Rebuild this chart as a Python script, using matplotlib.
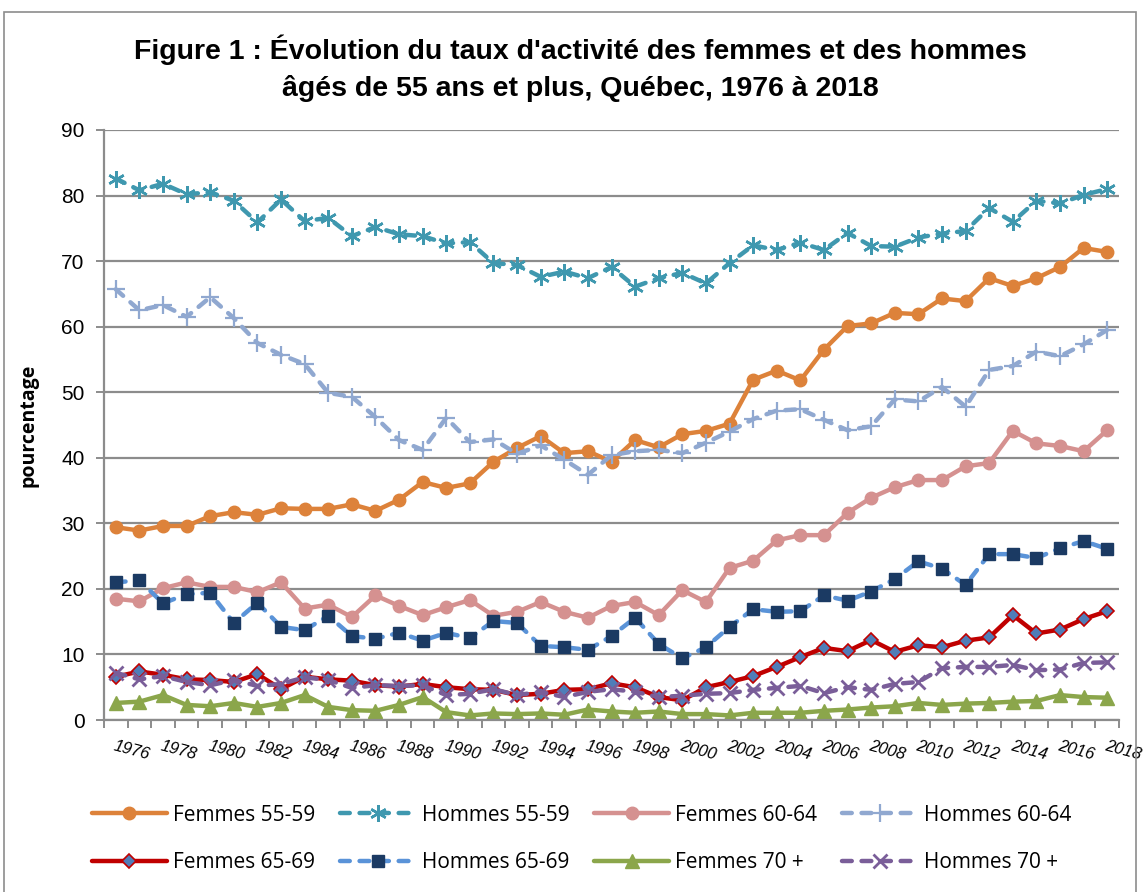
import matplotlib
matplotlib.use("Agg")
import matplotlib.pyplot as plt
import matplotlib.patches as patches
import numpy as np

annees = list(range(1976, 2019))

femmes_55_59 = [29.4, 28.9, 29.6, 29.6, 31.1, 31.7, 31.3, 32.3, 32.2, 32.2,
                32.9, 31.9, 33.6, 36.3, 35.4, 36.1, 39.4, 41.5, 43.3, 40.7,
                41.0, 39.4, 42.7, 41.6, 43.6, 44.1, 45.2, 51.9, 53.3, 51.8,
                56.5, 60.1, 60.5, 62.1, 61.9, 64.3, 63.9, 67.4, 66.2, 67.4,
                69.1, 72.0, 71.4]
hommes_55_59 = [82.6, 80.8, 81.8, 80.2, 80.5, 79.2, 75.9, 79.4, 76.1, 76.6,
                73.8, 75.2, 74.1, 73.8, 72.7, 72.9, 69.7, 69.4, 67.6, 68.4,
                67.4, 69.1, 66.1, 67.4, 68.2, 66.6, 69.7, 72.4, 71.7, 72.8,
                71.7, 74.3, 72.3, 72.2, 73.6, 74.2, 74.6, 78.1, 76.0, 79.2,
                78.8, 80.1, 81.0]
femmes_60_64 = [18.5, 18.1, 20.1, 21.0, 20.3, 20.3, 19.5, 21.0, 17.0, 17.6,
                15.7, 19.0, 17.4, 16.0, 17.2, 18.3, 15.9, 16.5, 18.0, 16.5,
                15.6, 17.4, 18.0, 16.0, 19.8, 18.0, 23.2, 24.3, 27.4, 28.2,
                28.2, 31.6, 33.9, 35.5, 36.6, 36.6, 38.7, 39.2, 44.1, 42.2,
                41.8, 41.0, 44.2]
hommes_60_64 = [65.7, 62.5, 63.3, 61.5, 64.5, 61.3, 57.5, 55.7, 54.3, 49.9,
                49.3, 46.2, 42.7, 41.2, 46.1, 42.4, 42.8, 40.6, 41.9, 39.7,
                37.4, 40.4, 41.0, 41.2, 40.7, 42.3, 44.0, 45.9, 47.2, 47.4,
                45.8, 44.2, 44.8, 48.9, 48.6, 50.8, 47.8, 53.4, 54.0, 56.2,
                55.5, 57.3, 59.5]
femmes_65_69 = [6.6, 7.4, 6.9, 6.2, 6.1, 5.8, 7.0, 4.7, 6.6, 6.2,
                6.0, 5.3, 5.1, 5.5, 5.0, 4.7, 4.6, 3.8, 4.0, 4.6,
                4.7, 5.6, 5.0, 3.5, 3.0, 5.0, 5.8, 6.7, 8.1, 9.6,
                11.0, 10.5, 12.2, 10.4, 11.4, 11.1, 12.1, 12.6, 16.0, 13.2,
                13.8, 15.4, 16.6]
hommes_65_69 = [21.0, 21.3, 17.8, 19.2, 19.4, 14.8, 17.9, 14.2, 13.7, 15.9,
                12.8, 12.4, 13.3, 12.1, 13.3, 12.5, 15.1, 14.8, 11.3, 11.1,
                10.7, 12.8, 15.6, 11.6, 9.4, 11.1, 14.2, 16.9, 16.5, 16.6,
                19.0, 18.2, 19.6, 21.5, 24.2, 23.1, 20.6, 25.3, 25.3, 24.7,
                26.2, 27.3, 26.1]
femmes_70_plus = [2.6, 2.8, 3.8, 2.3, 2.1, 2.6, 2.0, 2.6, 3.8, 2.0,
                  1.5, 1.4, 2.3, 3.5, 1.2, 0.7, 1.0, 0.9, 1.0, 0.8,
                  1.6, 1.3, 1.1, 1.3, 0.9, 0.9, 0.7, 1.1, 1.1, 1.1,
                  1.4, 1.6, 1.9, 2.1, 2.6, 2.3, 2.5, 2.6, 2.8, 2.9,
                  3.8, 3.5, 3.4]
hommes_70_plus = [7.2, 6.2, 6.7, 5.8, 5.3, 6.1, 5.2, 5.5, 6.5, 6.1,
                  4.9, 5.3, 5.2, 5.3, 3.8, 4.0, 4.7, 3.8, 4.3, 3.5,
                  4.3, 4.7, 4.3, 3.5, 3.7, 4.0, 4.1, 4.6, 4.9, 5.2,
                  4.1, 5.0, 4.6, 5.5, 5.8, 7.9, 8.1, 8.1, 8.4, 7.6,
                  7.7, 8.7, 8.8]

etiquettes_x = [str(a) for a in range(1976, 2019, 2)]

fig = plt.figure(figsize=(11.43, 8.92), dpi=100)
ax = fig.add_axes([104 / 1143, 1 - 720 / 892, (1119 - 104) / 1143, (720 - 130) / 892])

# cadre gris autour du graphique
fig.patches.append(patches.Rectangle((4 / 1143, -0.05), 1132 / 1143, 1.05 - 12 / 892,
                                     transform=fig.transFigure, fill=False,
                                     edgecolor='#8c8c8c', linewidth=1.2))

ax.set_xlim(1975.5, 2018.5)
ax.set_ylim(0, 90)
ax.set_yticks(range(0, 91, 10))
ax.yaxis.grid(True, color='#8c8c8c', linewidth=1.6)
ax.set_axisbelow(True)
for cote in ['top', 'right']:
    ax.spines[cote].set_visible(False)
ax.spines['left'].set_color('#8c8c8c')
ax.spines['bottom'].set_color('#8c8c8c')
ax.spines['left'].set_linewidth(1.6)
ax.spines['bottom'].set_linewidth(1.6)

ax.set_xticks(np.arange(1975.5, 2019, 1), minor=True)
ax.set_xticks(range(1976, 2019, 2))
ax.set_xticklabels(etiquettes_x, rotation=-15, ha='left', va='top',
                   rotation_mode='anchor', fontstyle='italic', fontsize=12,
                   family='Liberation Sans')
ax.tick_params(axis='x', which='major', length=0, pad=13)
ax.tick_params(axis='x', which='minor', length=6, width=1.4, color='#8c8c8c')
ax.tick_params(axis='y', length=6, width=1.4, color='#8c8c8c', pad=8)
for lbl in ax.get_yticklabels():
    lbl.set_family('Liberation Sans')
    lbl.set_fontsize(15)

kw_plein = dict(linewidth=3.2, solid_capstyle='round', solid_joinstyle='round')
kw_tiret = dict(linewidth=3.2, linestyle=(0, (2.2, 2.2)), dash_capstyle='round')

h1, = ax.plot(annees, femmes_55_59, color='#DD823A', marker='o', markersize=9, **kw_plein)
h2, = ax.plot(annees, hommes_55_59, color='#3F98AF', marker=(6, 2, 0), markersize=12,
              markeredgewidth=1.8, **kw_tiret)
h3, = ax.plot(annees, femmes_60_64, color='#D59190', marker='o', markersize=9, **kw_plein)
h4, = ax.plot(annees, hommes_60_64, color='#90A8D0', marker='+', markersize=13,
              markeredgewidth=1.6, **kw_tiret)
h5, = ax.plot(annees, femmes_65_69, color='#C00000', marker='D', markersize=7,
              markerfacecolor='#4F7DB8', markeredgecolor='#C00000', markeredgewidth=1.2,
              **kw_plein)
h6, = ax.plot(annees, hommes_65_69, color='#5A93D8', marker='s', markersize=9,
              markerfacecolor='#1B3A63', markeredgecolor='#1B3A63', **kw_tiret)
h7, = ax.plot(annees, femmes_70_plus, color='#8BA64B', marker='^', markersize=10, **kw_plein)
h8, = ax.plot(annees, hommes_70_plus, color='#7A5E99', marker='x', markersize=10,
              markeredgewidth=2, **kw_tiret)

ax.set_ylabel('pourcentage', fontsize=14, fontweight='bold', family='Open Sans', labelpad=16)

police_titre = dict(ha='center', va='center', fontsize=20.5, fontweight='bold',
                    family='Liberation Sans')
fig.text(0.508, 1 - 50 / 892,
         "Figure 1 : Évolution du taux d'activité des femmes et des hommes", **police_titre)
fig.text(0.508, 1 - 89 / 892, "âgés de 55 ans et plus, Québec, 1976 à 2018", **police_titre)

poignees = [h1, h5, h2, h6, h3, h7, h4, h8]
noms = ['Femmes 55-59', 'Femmes 65-69', 'Hommes 55-59', 'Hommes 65-69',
        'Femmes 60-64', 'Femmes 70 +', 'Hommes 60-64', 'Hommes 70 +']
fig.legend(poignees, noms, ncol=4, loc='upper left',
           bbox_to_anchor=(73 / 1143, 1 - 786 / 892), frameon=False,
           prop={'family': 'Open Sans', 'size': 15}, handlelength=3.6,
           columnspacing=1.2, handletextpad=0.3, labelspacing=1.25)

fig.savefig('out.png', dpi=100)
